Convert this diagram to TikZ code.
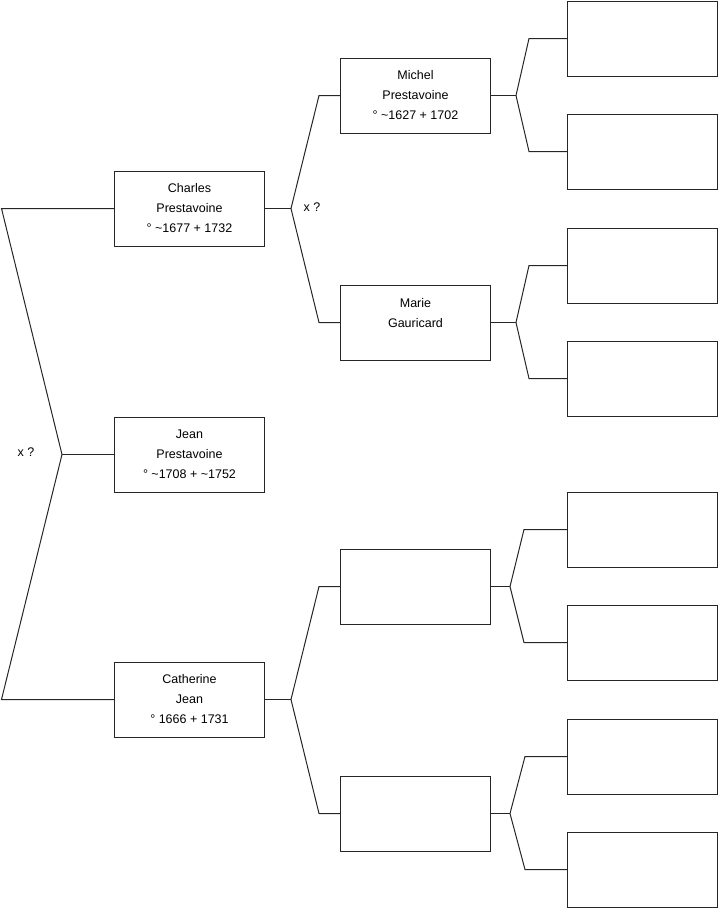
\documentclass[tikz,border=0pt]{standalone}
\usepackage{fontspec}
\setmainfont{Liberation Sans}
\usetikzlibrary{positioning,calc}
\tikzset{
  pbox/.style={draw=black!85, fill=white, line width=1pt, inner sep=0pt,
               minimum width=150pt, minimum height=75pt, align=center,
               font=\fontsize{12.5}{20}\selectfont},
  plink/.style={draw=black!85, line width=1pt},
  plbl/.style={font=\fontsize{12.5}{15}\selectfont, inner sep=0pt},
}

\begin{document}
\begin{tikzpicture}[x=1pt,y=-1pt]
  \useasboundingbox (0,0) rectangle (719,908);

  % persons
  \node[pbox] (jean)      at (189.5,454.5) {Jean\\Prestavoine\\° \textasciitilde1708 + \textasciitilde1752};
  \node[pbox] (charles)   at (189.5,208.5) {Charles\\Prestavoine\\° \textasciitilde1677 + 1732};
  \node[pbox] (catherine) at (189.5,699.5) {Catherine\\Jean\\° 1666 + 1731};
  \node[pbox] (michel)    at (415.5,95.5)  {Michel\\Prestavoine\\° \textasciitilde1627 + 1702};
  \node[pbox] (marie)     at (415.5,322.5) {Marie\\Gauricard\\\mbox{}};
  \node[pbox] (g2c)       at (415.5,586.5) {};
  \node[pbox] (g2d)       at (415.5,813.5) {};
  \foreach \n/\y in {g3a/38.5, g3b/151.5, g3c/265.5, g3d/378.5, g3e/529.5, g3f/642.5, g3g/756.5, g3h/869.5}
    \node[pbox] (\n) at (642.5,\y) {};

  % parents of jean
  \coordinate (fk-jean) at (62,454.5);
  \draw[plink] (jean.west) -- (fk-jean);
  \draw[plink] (fk-jean) -- (charles.west -| 1.5,0) -- (charles.west);
  \draw[plink] (fk-jean) -- (catherine.west -| 1.5,0) -- (catherine.west);
  \node[plbl] (xq0) at (26,452) {x ?};

  % further generations
  \foreach \p/\a/\b/\fx/\cx in {charles/michel/marie/291/319,
                                catherine/g2c/g2d/291/319,
                                michel/g3a/g3b/516/529,
                                marie/g3c/g3d/516/529,
                                g2c/g3e/g3f/510/524,
                                g2d/g3g/g3h/510/525}
  {
    \coordinate (fk-\p) at (\p.east -| \fx,0);
    \draw[plink] (\p.east) -- (fk-\p);
    \draw[plink] (fk-\p) -- (\a.west -| \cx,0) -- (\a.west);
    \draw[plink] (fk-\p) -- (\b.west -| \cx,0) -- (\b.west);
  }
  \node[plbl] (xq1) at (312,207) {x ?};

\end{tikzpicture}
\end{document}
